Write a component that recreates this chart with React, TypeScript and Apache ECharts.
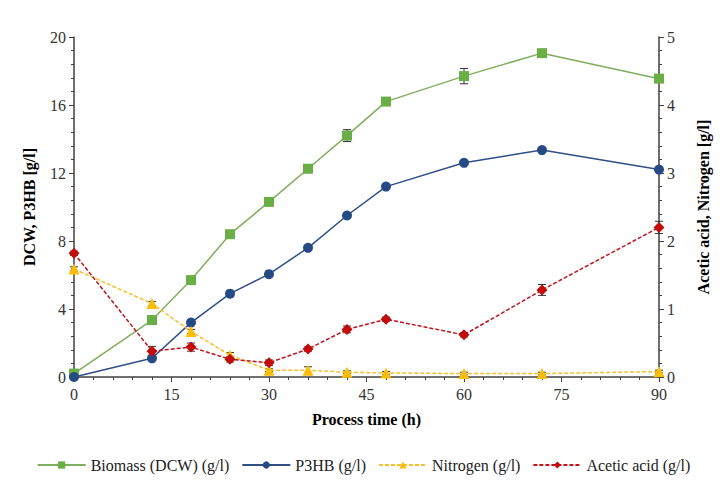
import { useEffect, useRef } from "react"
import * as echarts from "echarts"

// process time (h)
const hours = [0, 12, 18, 24, 30, 36, 42, 48, 60, 72, 90]

// left axis (g/l)
const biomass = [0.2, 3.35, 5.7, 8.4, 10.3, 12.25, 14.2, 16.2, 17.7, 19.05, 17.55]
const biomassErr = [0.1, 0.1, 0.1, 0.1, 0.1, 0.1, 0.35, 0.1, 0.45, 0.1, 0.15]
const p3hb = [0.0, 1.1, 3.2, 4.9, 6.05, 7.6, 9.5, 11.2, 12.6, 13.35, 12.2]
const p3hbErr = [0, 0.05, 0.05, 0.05, 0.05, 0.05, 0.1, 0.05, 0.05, 0.05, 0.05]

// right axis (g/l)
const nitrogen = [1.59, 1.08, 0.67, 0.32, 0.1, 0.1, 0.07, 0.06, 0.05, 0.05, 0.08]
const nitrogenErr = [0.03, 0.03, 0.03, 0.04, 0.02, 0.05, 0.02, 0.02, 0.02, 0.02, 0.02]
const acetic = [1.82, 0.38, 0.44, 0.26, 0.21, 0.41, 0.7, 0.85, 0.62, 1.28, 2.2]
const aceticErr = [0.03, 0.07, 0.06, 0.04, 0.04, 0.03, 0.05, 0.03, 0.03, 0.08, 0.09]

const font = "Liberation Serif"
const axisColor = "#404040"

function pairs(ys: number[]) {
  return hours.map((h, i) => [h, ys[i]])
}

function errData(ys: number[], errs: number[]) {
  return hours.map((h, i) => [h, ys[i] - errs[i], ys[i] + errs[i]])
}

function errorSeries(ys: number[], errs: number[], yAxisIndex: number) {
  return {
    type: "custom",
    yAxisIndex,
    silent: true,
    z: 1,
    data: errData(ys, errs),
    renderItem: (params: any, api: any) => {
      const x = api.value(0)
      const lo = api.coord([x, api.value(1)])
      const hi = api.coord([x, api.value(2)])
      const cap = 4
      const style = { stroke: "#333", lineWidth: 1 }
      return {
        type: "group",
        children: [
          { type: "line", shape: { x1: lo[0], y1: lo[1], x2: hi[0], y2: hi[1] }, style },
          { type: "line", shape: { x1: lo[0] - cap, y1: lo[1], x2: lo[0] + cap, y2: lo[1] }, style },
          { type: "line", shape: { x1: hi[0] - cap, y1: hi[1], x2: hi[0] + cap, y2: hi[1] }, style },
        ],
      }
    },
  }
}

export default function App() {
  const chartRef = useRef<HTMLDivElement>(null)

  useEffect(() => {
    if (!chartRef.current) return
    const chart = echarts.init(chartRef.current, null, { renderer: "svg" })

    const labelStyle = { color: "#333", fontFamily: font, fontSize: 16, fontWeight: "normal" }
    const axisCommon = {
      axisLine: { show: true, lineStyle: { color: axisColor, width: 1.5 } },
      axisTick: { show: true, length: 5, lineStyle: { color: axisColor } },
      minorTick: { show: true, splitNumber: 5, length: 3, lineStyle: { color: axisColor } },
      splitLine: { show: false },
      axisLabel: labelStyle,
      nameTextStyle: { color: "#000", fontFamily: font, fontSize: 16, fontWeight: "bold" },
    }

    chart.setOption({
      animation: false,
      textStyle: { fontFamily: font },
      grid: { left: 66, right: 60, top: 29, bottom: 111 },
      legend: {
        bottom: 10,
        left: "center",
        itemWidth: 48,
        itemHeight: 9,
        itemGap: 12,
        textStyle: { ...labelStyle, color: "#222" },
        data: ["Biomass (DCW) (g/l)", "P3HB (g/l)", "Nitrogen (g/l)", "Acetic acid (g/l)"],
      },
      xAxis: {
        type: "value",
        min: 0,
        max: 90,
        interval: 15,
        name: "Process time (h)",
        nameLocation: "middle",
        nameGap: 34,
        ...axisCommon,
        axisLabel: { ...labelStyle, margin: 9 },
      },
      yAxis: [
        {
          type: "value",
          min: 0,
          max: 20,
          interval: 4,
          name: "DCW, P3HB [g/l]",
          nameLocation: "middle",
          nameGap: 37,
          ...axisCommon,
        },
        {
          type: "value",
          min: 0,
          max: 5,
          interval: 1,
          name: "Acetic acid, Nitrogen [g/l]",
          nameLocation: "middle",
          nameGap: 36,
          nameRotate: 90,
          ...axisCommon,
        },
      ],
      series: [
        errorSeries(biomass, biomassErr, 0),
        errorSeries(p3hb, p3hbErr, 0),
        errorSeries(nitrogen, nitrogenErr, 1),
        errorSeries(acetic, aceticErr, 1),
        {
          name: "Biomass (DCW) (g/l)",
          type: "line",
          yAxisIndex: 0,
          data: pairs(biomass),
          symbol: "rect",
          symbolSize: 10,
          lineStyle: { color: "#7fae5c", width: 1.5 },
          itemStyle: { color: "#6aaf45" },
          z: 3,
        },
        {
          name: "P3HB (g/l)",
          type: "line",
          yAxisIndex: 0,
          data: pairs(p3hb),
          symbol: "circle",
          symbolSize: 10,
          lineStyle: { color: "#2f4f86", width: 1.5 },
          itemStyle: { color: "#264a84" },
          z: 4,
        },
        {
          name: "Nitrogen (g/l)",
          type: "line",
          yAxisIndex: 1,
          data: pairs(nitrogen),
          symbol: "triangle",
          symbolSize: 11,
          lineStyle: { color: "#f5c02a", width: 1.5, type: [4, 2] },
          itemStyle: { color: "#fbbd08" },
          z: 5,
        },
        {
          name: "Acetic acid (g/l)",
          type: "line",
          yAxisIndex: 1,
          data: pairs(acetic),
          symbol: "diamond",
          symbolSize: 11,
          lineStyle: { color: "#c0141c", width: 1.5, type: [4, 2] },
          itemStyle: { color: "#c40a0a" },
          z: 6,
        },
      ],
    })

    return () => {
      chart.dispose()
    }
  }, [])

  return <div ref={chartRef} style={{ width: 711, height: 480 }} />
}
